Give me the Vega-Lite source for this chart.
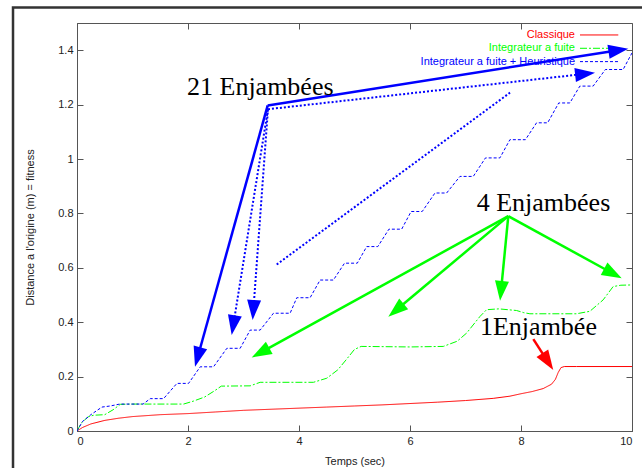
{
  "$schema": "https://vega.github.io/schema/vega-lite/v6.json",
  "width": 555,
  "height": 408,
  "autosize": "none",
  "padding": {"left": 77, "top": 23, "right": 10, "bottom": 37},
  "background": "white",
  "config": {
    "view": {"stroke": "#555", "strokeWidth": 1},
    "axis": {
      "labelFont": "Liberation Sans", "labelFontSize": 11, "labelColor": "#222",
      "titleFont": "Liberation Sans", "titleFontSize": 11, "titleFontWeight": "normal", "titleColor": "#222",
      "domainColor": "#555", "tickColor": "#555", "grid": false, "tickSize": -6, "labelPadding": 10
    }
  },
  "datasets": {
    "curves": [
      {"series": "Classique", "t": 0, "d": 0},
      {"series": "Classique", "t": 0.1, "d": 0.013},
      {"series": "Classique", "t": 0.25, "d": 0.026},
      {"series": "Classique", "t": 0.5, "d": 0.039},
      {"series": "Classique", "t": 0.75, "d": 0.047},
      {"series": "Classique", "t": 1.0, "d": 0.053},
      {"series": "Classique", "t": 1.5, "d": 0.06},
      {"series": "Classique", "t": 2.0, "d": 0.064},
      {"series": "Classique", "t": 2.5, "d": 0.07},
      {"series": "Classique", "t": 3.0, "d": 0.076},
      {"series": "Classique", "t": 3.5, "d": 0.08},
      {"series": "Classique", "t": 4.0, "d": 0.084},
      {"series": "Classique", "t": 4.5, "d": 0.088},
      {"series": "Classique", "t": 5.0, "d": 0.092},
      {"series": "Classique", "t": 5.5, "d": 0.096},
      {"series": "Classique", "t": 6.0, "d": 0.101},
      {"series": "Classique", "t": 6.5, "d": 0.106},
      {"series": "Classique", "t": 7.0, "d": 0.112},
      {"series": "Classique", "t": 7.5, "d": 0.12},
      {"series": "Classique", "t": 7.8, "d": 0.128},
      {"series": "Classique", "t": 8.0, "d": 0.137},
      {"series": "Classique", "t": 8.2, "d": 0.145},
      {"series": "Classique", "t": 8.4, "d": 0.156},
      {"series": "Classique", "t": 8.55, "d": 0.172},
      {"series": "Classique", "t": 8.62, "d": 0.19},
      {"series": "Classique", "t": 8.67, "d": 0.215},
      {"series": "Classique", "t": 8.72, "d": 0.233},
      {"series": "Classique", "t": 8.78, "d": 0.237},
      {"series": "Classique", "t": 9.0, "d": 0.237},
      {"series": "Classique", "t": 10, "d": 0.237},
      {"series": "Integrateur a fuite", "t": 0, "d": 0},
      {"series": "Integrateur a fuite", "t": 0.08, "d": 0.03},
      {"series": "Integrateur a fuite", "t": 0.2, "d": 0.052},
      {"series": "Integrateur a fuite", "t": 0.3, "d": 0.058},
      {"series": "Integrateur a fuite", "t": 0.5, "d": 0.06},
      {"series": "Integrateur a fuite", "t": 0.65, "d": 0.078},
      {"series": "Integrateur a fuite", "t": 0.78, "d": 0.098},
      {"series": "Integrateur a fuite", "t": 1.0, "d": 0.099},
      {"series": "Integrateur a fuite", "t": 1.92, "d": 0.099},
      {"series": "Integrateur a fuite", "t": 2.1, "d": 0.11},
      {"series": "Integrateur a fuite", "t": 2.3, "d": 0.125},
      {"series": "Integrateur a fuite", "t": 2.48, "d": 0.148},
      {"series": "Integrateur a fuite", "t": 2.6, "d": 0.165},
      {"series": "Integrateur a fuite", "t": 3.12, "d": 0.166},
      {"series": "Integrateur a fuite", "t": 3.3, "d": 0.179},
      {"series": "Integrateur a fuite", "t": 4.26, "d": 0.179},
      {"series": "Integrateur a fuite", "t": 4.5, "d": 0.194},
      {"series": "Integrateur a fuite", "t": 4.7, "d": 0.225},
      {"series": "Integrateur a fuite", "t": 4.85, "d": 0.262},
      {"series": "Integrateur a fuite", "t": 5.0, "d": 0.3},
      {"series": "Integrateur a fuite", "t": 5.12, "d": 0.311},
      {"series": "Integrateur a fuite", "t": 6.0, "d": 0.309},
      {"series": "Integrateur a fuite", "t": 6.6, "d": 0.311},
      {"series": "Integrateur a fuite", "t": 6.85, "d": 0.33},
      {"series": "Integrateur a fuite", "t": 7.02, "d": 0.36},
      {"series": "Integrateur a fuite", "t": 7.26, "d": 0.421},
      {"series": "Integrateur a fuite", "t": 7.38, "d": 0.446},
      {"series": "Integrateur a fuite", "t": 7.6, "d": 0.449},
      {"series": "Integrateur a fuite", "t": 7.92, "d": 0.443},
      {"series": "Integrateur a fuite", "t": 8.05, "d": 0.435},
      {"series": "Integrateur a fuite", "t": 8.16, "d": 0.431},
      {"series": "Integrateur a fuite", "t": 9.0, "d": 0.431},
      {"series": "Integrateur a fuite", "t": 9.24, "d": 0.44},
      {"series": "Integrateur a fuite", "t": 9.48, "d": 0.482},
      {"series": "Integrateur a fuite", "t": 9.66, "d": 0.531},
      {"series": "Integrateur a fuite", "t": 9.8, "d": 0.536},
      {"series": "Integrateur a fuite", "t": 10, "d": 0.537},
      {"series": "Integrateur a fuite + Heuristique", "t": 0, "d": 0},
      {"series": "Integrateur a fuite + Heuristique", "t": 0.1, "d": 0.035},
      {"series": "Integrateur a fuite + Heuristique", "t": 0.25, "d": 0.06},
      {"series": "Integrateur a fuite + Heuristique", "t": 0.45, "d": 0.088},
      {"series": "Integrateur a fuite + Heuristique", "t": 0.6, "d": 0.092},
      {"series": "Integrateur a fuite + Heuristique", "t": 0.77, "d": 0.099},
      {"series": "Integrateur a fuite + Heuristique", "t": 1.19, "d": 0.099},
      {"series": "Integrateur a fuite + Heuristique", "t": 1.32, "d": 0.119},
      {"series": "Integrateur a fuite + Heuristique", "t": 1.56, "d": 0.119},
      {"series": "Integrateur a fuite + Heuristique", "t": 1.8, "d": 0.175},
      {"series": "Integrateur a fuite + Heuristique", "t": 2.01, "d": 0.175},
      {"series": "Integrateur a fuite + Heuristique", "t": 2.22, "d": 0.236},
      {"series": "Integrateur a fuite + Heuristique", "t": 2.46, "d": 0.236},
      {"series": "Integrateur a fuite + Heuristique", "t": 2.7, "d": 0.304},
      {"series": "Integrateur a fuite + Heuristique", "t": 2.94, "d": 0.304},
      {"series": "Integrateur a fuite + Heuristique", "t": 3.12, "d": 0.371},
      {"series": "Integrateur a fuite + Heuristique", "t": 3.3, "d": 0.371},
      {"series": "Integrateur a fuite + Heuristique", "t": 3.54, "d": 0.433},
      {"series": "Integrateur a fuite + Heuristique", "t": 3.84, "d": 0.433},
      {"series": "Integrateur a fuite + Heuristique", "t": 3.96, "d": 0.49},
      {"series": "Integrateur a fuite + Heuristique", "t": 4.2, "d": 0.49},
      {"series": "Integrateur a fuite + Heuristique", "t": 4.38, "d": 0.555},
      {"series": "Integrateur a fuite + Heuristique", "t": 4.62, "d": 0.555},
      {"series": "Integrateur a fuite + Heuristique", "t": 4.82, "d": 0.617},
      {"series": "Integrateur a fuite + Heuristique", "t": 5.05, "d": 0.617},
      {"series": "Integrateur a fuite + Heuristique", "t": 5.22, "d": 0.678},
      {"series": "Integrateur a fuite + Heuristique", "t": 5.42, "d": 0.678},
      {"series": "Integrateur a fuite + Heuristique", "t": 5.62, "d": 0.742},
      {"series": "Integrateur a fuite + Heuristique", "t": 5.85, "d": 0.742},
      {"series": "Integrateur a fuite + Heuristique", "t": 6.02, "d": 0.807},
      {"series": "Integrateur a fuite + Heuristique", "t": 6.22, "d": 0.807},
      {"series": "Integrateur a fuite + Heuristique", "t": 6.45, "d": 0.875},
      {"series": "Integrateur a fuite + Heuristique", "t": 6.66, "d": 0.875},
      {"series": "Integrateur a fuite + Heuristique", "t": 6.9, "d": 0.936},
      {"series": "Integrateur a fuite + Heuristique", "t": 7.14, "d": 0.936},
      {"series": "Integrateur a fuite + Heuristique", "t": 7.36, "d": 1.004},
      {"series": "Integrateur a fuite + Heuristique", "t": 7.62, "d": 1.004},
      {"series": "Integrateur a fuite + Heuristique", "t": 7.8, "d": 1.071},
      {"series": "Integrateur a fuite + Heuristique", "t": 8.08, "d": 1.071},
      {"series": "Integrateur a fuite + Heuristique", "t": 8.28, "d": 1.133},
      {"series": "Integrateur a fuite + Heuristique", "t": 8.48, "d": 1.133},
      {"series": "Integrateur a fuite + Heuristique", "t": 8.68, "d": 1.206},
      {"series": "Integrateur a fuite + Heuristique", "t": 8.88, "d": 1.206},
      {"series": "Integrateur a fuite + Heuristique", "t": 9.06, "d": 1.268},
      {"series": "Integrateur a fuite + Heuristique", "t": 9.3, "d": 1.268},
      {"series": "Integrateur a fuite + Heuristique", "t": 9.52, "d": 1.329},
      {"series": "Integrateur a fuite + Heuristique", "t": 9.84, "d": 1.329},
      {"series": "Integrateur a fuite + Heuristique", "t": 10, "d": 1.39}
    ],
    "legend": [
      {"series": "Classique", "tx": 8.973, "x1": 9.063, "x2": 9.753, "y": 1.456},
      {"series": "Integrateur a fuite", "tx": 8.973, "x1": 9.063, "x2": 9.753, "y": 1.407},
      {"series": "Integrateur a fuite + Heuristique", "tx": 8.973, "x1": 9.063, "x2": 9.753, "y": 1.358}
    ],
    "arrows": [
      {"arrow": "a1", "trait": "plein", "series": "Integrateur a fuite + Heuristique", "x": 3.436, "y": 1.197},
      {"arrow": "a1", "trait": "plein", "series": "Integrateur a fuite + Heuristique", "x": 9.755, "y": 1.4},
      {"arrow": "a2", "trait": "plein", "series": "Integrateur a fuite + Heuristique", "x": 3.436, "y": 1.197},
      {"arrow": "a2", "trait": "plein", "series": "Integrateur a fuite + Heuristique", "x": 2.175, "y": 0.272},
      {"arrow": "a3", "trait": "pointille", "series": "Integrateur a fuite + Heuristique", "x": 3.441, "y": 1.183},
      {"arrow": "a3", "trait": "pointille", "series": "Integrateur a fuite + Heuristique", "x": 9.155, "y": 1.313},
      {"arrow": "a4", "trait": "pointille", "series": "Integrateur a fuite + Heuristique", "x": 3.441, "y": 1.183},
      {"arrow": "a4", "trait": "pointille", "series": "Integrateur a fuite + Heuristique", "x": 2.816, "y": 0.389},
      {"arrow": "a5", "trait": "pointille", "series": "Integrateur a fuite + Heuristique", "x": 3.441, "y": 1.183},
      {"arrow": "a5", "trait": "pointille", "series": "Integrateur a fuite + Heuristique", "x": 3.178, "y": 0.445},
      {"arrow": "a6", "trait": "pointille", "series": "Integrateur a fuite + Heuristique", "x": 3.598, "y": 0.612},
      {"arrow": "a6", "trait": "pointille", "series": "Integrateur a fuite + Heuristique", "x": 7.802, "y": 1.244},
      {"arrow": "g1", "trait": "plein", "series": "Integrateur a fuite", "x": 7.771, "y": 0.79},
      {"arrow": "g1", "trait": "plein", "series": "Integrateur a fuite", "x": 3.306, "y": 0.288},
      {"arrow": "g2", "trait": "plein", "series": "Integrateur a fuite", "x": 7.771, "y": 0.79},
      {"arrow": "g2", "trait": "plein", "series": "Integrateur a fuite", "x": 5.748, "y": 0.444},
      {"arrow": "g3", "trait": "plein", "series": "Integrateur a fuite", "x": 7.771, "y": 0.79},
      {"arrow": "g3", "trait": "plein", "series": "Integrateur a fuite", "x": 7.64, "y": 0.515},
      {"arrow": "g4", "trait": "plein", "series": "Integrateur a fuite", "x": 7.771, "y": 0.79},
      {"arrow": "g4", "trait": "plein", "series": "Integrateur a fuite", "x": 9.656, "y": 0.579},
      {"arrow": "r1", "trait": "plein", "series": "Classique", "x": 8.222, "y": 0.338},
      {"arrow": "r1", "trait": "plein", "series": "Classique", "x": 8.483, "y": 0.255}
    ],
    "heads": [
      {"series": "Integrateur a fuite + Heuristique", "x": 9.755, "y": 1.4, "angle": 81.1},
      {"series": "Integrateur a fuite + Heuristique", "x": 2.175, "y": 0.272, "angle": 195.6},
      {"series": "Integrateur a fuite + Heuristique", "x": 9.155, "y": 1.313, "angle": 83.6},
      {"series": "Integrateur a fuite + Heuristique", "x": 2.816, "y": 0.389, "angle": 189.2},
      {"series": "Integrateur a fuite + Heuristique", "x": 3.178, "y": 0.445, "angle": 184.2},
      {"series": "Integrateur a fuite", "x": 3.306, "y": 0.288, "angle": 241.3},
      {"series": "Integrateur a fuite", "x": 5.748, "y": 0.444, "angle": 230.2},
      {"series": "Integrateur a fuite", "x": 7.64, "y": 0.515, "angle": 185.6},
      {"series": "Integrateur a fuite", "x": 9.656, "y": 0.579, "angle": 118.5},
      {"series": "Classique", "x": 8.483, "y": 0.255, "angle": 146.9}
    ],
    "labels": [
      {"label": "21 Enjambées", "x": 1.982, "y": 1.264},
      {"label": "4 Enjambées", "x": 7.202, "y": 0.84},
      {"label": "1Enjambée", "x": 7.261, "y": 0.383}
    ]
  },
  "resolve": {"axis": {"x": "independent", "y": "independent"}},
  "layer": [
    {
      "data": {"name": "curves"},
      "mark": {"type": "line", "strokeWidth": 1, "clip": true},
      "encoding": {
        "x": {"field": "t", "type": "quantitative", "scale": {"domain": [0, 10], "nice": false},
              "axis": {"title": "Temps (sec)", "values": [0, 2, 4, 6, 8, 10], "format": "d", "titlePadding": 9}},
        "y": {"field": "d", "type": "quantitative", "scale": {"domain": [0, 1.5], "nice": false, "zero": false},
              "axis": {"title": "Distance a l'origine (m) = fitness", "values": [0, 0.2, 0.4, 0.6, 0.8, 1, 1.2, 1.4], "labelExpr": "format(datum.value, '.1f') === '0.0' ? '0' : (datum.value === 1 ? '1' : format(datum.value, '.1f'))", "titlePadding": 22}},
        "color": {"field": "series", "type": "nominal",
                  "scale": {"domain": ["Classique", "Integrateur a fuite", "Integrateur a fuite + Heuristique"], "range": ["#ff0000", "#00ff00", "#0000ff"]},
                  "legend": null},
        "strokeDash": {"field": "series", "type": "nominal",
                       "scale": {"domain": ["Classique", "Integrateur a fuite", "Integrateur a fuite + Heuristique"], "range": [[1, 0], [7, 2, 2, 2], [3, 2]]},
                       "legend": null},
        "detail": {"field": "series"}
      }
    },
    {
      "data": {"name": "legend"},
      "mark": {"type": "rule", "strokeWidth": 1},
      "encoding": {
        "x": {"field": "x1", "type": "quantitative", "axis": {"orient": "top", "labels": false, "title": null, "values": [0, 2, 4, 6, 8, 10], "domain": false}},
        "x2": {"field": "x2"},
        "y": {"field": "y", "type": "quantitative", "axis": {"orient": "right", "labels": false, "title": null, "values": [0, 0.2, 0.4, 0.6, 0.8, 1, 1.2, 1.4], "domain": false}},
        "color": {"field": "series", "type": "nominal", "legend": null},
        "strokeDash": {"field": "series", "type": "nominal", "legend": null}
      }
    },
    {
      "data": {"name": "legend"},
      "mark": {"type": "text", "align": "right", "baseline": "middle", "font": "Liberation Sans", "fontSize": 11},
      "encoding": {
        "x": {"field": "tx", "type": "quantitative", "axis": null},
        "y": {"field": "y", "type": "quantitative", "axis": null},
        "text": {"field": "series"},
        "color": {"field": "series", "type": "nominal", "legend": null}
      }
    },
    {
      "data": {"name": "arrows"},
      "transform": [{"filter": "datum.trait === 'plein'"}],
      "mark": {"type": "line", "strokeWidth": 2.5},
      "encoding": {
        "x": {"field": "x", "type": "quantitative", "axis": null},
        "y": {"field": "y", "type": "quantitative", "axis": null},
        "detail": {"field": "arrow"},
        "color": {"field": "series", "type": "nominal", "legend": null}
      }
    },
    {
      "data": {"name": "arrows"},
      "transform": [{"filter": "datum.trait === 'pointille'"}],
      "mark": {"type": "line", "strokeWidth": 2, "strokeDash": [2, 2]},
      "encoding": {
        "x": {"field": "x", "type": "quantitative", "axis": null},
        "y": {"field": "y", "type": "quantitative", "axis": null},
        "detail": {"field": "arrow"},
        "color": {"field": "series", "type": "nominal", "legend": null}
      }
    },
    {
      "data": {"name": "heads"},
      "mark": {"type": "point", "shape": "M0,-1L0.7,1L-0.7,1Z", "filled": true, "opacity": 1, "size": 400, "strokeWidth": 0},
      "encoding": {
        "x": {"field": "x", "type": "quantitative", "axis": null},
        "y": {"field": "y", "type": "quantitative", "axis": null},
        "angle": {"field": "angle", "type": "quantitative", "scale": null},
        "color": {"field": "series", "type": "nominal", "legend": null}
      }
    },
    {
      "data": {"name": "labels"},
      "mark": {"type": "text", "align": "left", "baseline": "middle", "font": "Liberation Serif", "fontSize": 26, "color": "#000"},
      "encoding": {
        "x": {"field": "x", "type": "quantitative", "axis": null},
        "y": {"field": "y", "type": "quantitative", "axis": null},
        "text": {"field": "label"}
      }
    },
    {
      "data": {"values": [{"cadre": "page"}]},
      "mark": {"type": "rect", "fill": null, "stroke": "#333", "strokeWidth": 2.5},
      "encoding": {
        "x": {"datum": -1.153, "type": "quantitative", "axis": null},
        "x2": {"datum": 10.6},
        "y": {"datum": 1.557, "type": "quantitative", "axis": null},
        "y2": {"datum": -0.25}
      }
    }
  ]
}
